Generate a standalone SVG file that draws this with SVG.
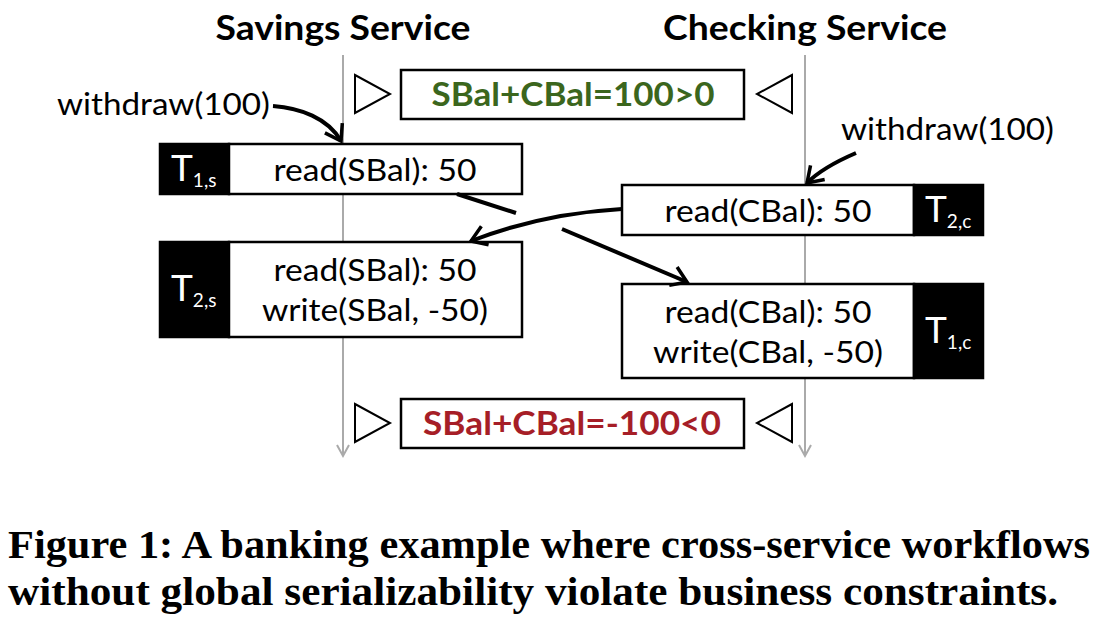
<svg xmlns="http://www.w3.org/2000/svg" width="1102" height="624" viewBox="0 0 1102 624">
<style>
.title{font-family:Lato,"Liberation Sans",sans-serif;font-weight:bold;font-size:35px;fill:#000;text-anchor:middle}
.t{font-family:Lato,"Liberation Sans",sans-serif;font-size:31px;fill:#000;text-anchor:middle}
.lbl{font-family:Lato,"Liberation Sans",sans-serif;font-size:31px;fill:#000}
.tw{font-family:Lato,"Liberation Sans",sans-serif;font-size:37px;fill:#fff}
.sub{font-size:19px}
.box{fill:#fff;stroke:#000;stroke-width:2.5}
.blk{fill:#000;stroke:#000;stroke-width:2.5}
.life{stroke:#aaa;stroke-width:2;fill:none}
.tri{fill:#fff;stroke:#000;stroke-width:2}
.conn{fill:none;stroke:#000;stroke-width:4}
.inv{font-family:Lato,"Liberation Sans",sans-serif;font-weight:bold;font-size:33px;text-anchor:middle}
.cap{font-family:"Liberation Serif",serif;font-weight:bold;font-size:40px;fill:#000}
</style>
<defs>
<marker id="ah" viewBox="-16 -12 18 24" refX="0" refY="0" markerWidth="18" markerHeight="24" orient="auto" markerUnits="userSpaceOnUse" overflow="visible">
<path d="M-15,-10 L0,0 L-15,10" fill="none" stroke="#000" stroke-width="3.5" stroke-linejoin="miter"/>
</marker>
</defs>

<g id="savings-lifeline">
<text class="title" x="343" y="40" textLength="255" lengthAdjust="spacingAndGlyphs">Savings Service</text>
<line class="life" x1="343" y1="55" x2="343" y2="455"/>
<path d="M337,445 L343,456 L349,445" fill="none" stroke="#aaa" stroke-width="2"/>
</g>
<g id="checking-lifeline">
<text class="title" x="805" y="40" textLength="284" lengthAdjust="spacingAndGlyphs">Checking Service</text>
<line class="life" x1="805" y1="55" x2="805" y2="455"/>
<path d="M799,445 L805,456 L811,445" fill="none" stroke="#aaa" stroke-width="2"/>
</g>

<g id="invariant-ok">
<polygon class="tri" points="355,75 390,94 355,113"/>
<rect class="box" x="401" y="70" width="343" height="49"/>
<text class="inv" x="573" y="106" fill="#3b661d" textLength="283" lengthAdjust="spacingAndGlyphs">SBal+CBal=100&gt;0</text>
<polygon class="tri" points="792,75 757,94 792,113"/>
</g>

<g id="withdraw-s">
<text class="lbl" x="57" y="115" textLength="213" lengthAdjust="spacingAndGlyphs">withdraw(100)</text>
</g>
<g id="withdraw-c">
<text class="lbl" x="841" y="140" textLength="213" lengthAdjust="spacingAndGlyphs">withdraw(100)</text>
</g>

<g id="T1s">
<rect class="blk" x="160" y="144" width="69" height="50"/>
<rect class="box" x="229" y="144" width="293" height="50"/>
<text class="tw" x="171" y="181">T<tspan class="sub" dy="6">1,s</tspan></text>
<text class="t" x="375" y="181" textLength="203" lengthAdjust="spacingAndGlyphs">read(SBal): 50</text>
</g>

<g id="T2c">
<rect class="box" x="622" y="185" width="292" height="50"/>
<rect class="blk" x="914" y="185" width="69" height="50"/>
<text class="t" x="768" y="222" textLength="207" lengthAdjust="spacingAndGlyphs">read(CBal): 50</text>
<text class="tw" x="925" y="222">T<tspan class="sub" dy="6">2,c</tspan></text>
</g>

<g id="T2s">
<rect class="blk" x="160" y="242" width="69" height="95"/>
<rect class="box" x="229" y="242" width="293" height="95"/>
<text class="tw" x="171" y="301">T<tspan class="sub" dy="6">2,s</tspan></text>
<text class="t" x="375" y="281" textLength="203" lengthAdjust="spacingAndGlyphs">read(SBal): 50</text>
<text class="t" x="375" y="321" textLength="226" lengthAdjust="spacingAndGlyphs">write(SBal, -50)</text>
</g>

<g id="T1c">
<rect class="box" x="622" y="284" width="292" height="94"/>
<rect class="blk" x="914" y="284" width="69" height="94"/>
<text class="t" x="768" y="323" textLength="207" lengthAdjust="spacingAndGlyphs">read(CBal): 50</text>
<text class="t" x="768" y="363" textLength="230" lengthAdjust="spacingAndGlyphs">write(CBal, -50)</text>
<text class="tw" x="925" y="343">T<tspan class="sub" dy="6">1,c</tspan></text>
</g>

<g id="invariant-bad">
<polygon class="tri" points="355,404 390,423 355,442"/>
<rect class="box" x="401" y="399" width="343" height="49"/>
<text class="inv" x="572" y="435" fill="#a61e27" textLength="298" lengthAdjust="spacingAndGlyphs">SBal+CBal=-100&lt;0</text>
<polygon class="tri" points="792,404 757,423 792,442"/>
</g>

<g id="connectors">
<path class="conn" d="M273,106 C300,108 328,118 341,141" marker-end="url(#ah)"/>
<path class="conn" d="M856,153 C835,162 818,172 807,183" marker-end="url(#ah)"/>
<path class="conn" d="M457,194 L516,213"/>
<path class="conn" d="M562,229 L687,282" marker-end="url(#ah)"/>
<path class="conn" d="M622,209 C570,212 520,222 471,241" marker-end="url(#ah)"/>
</g>

<g id="caption">
<text class="cap" x="8" y="558" textLength="1082" lengthAdjust="spacingAndGlyphs">Figure 1: A banking example where cross-service workflows</text>
<text class="cap" x="8" y="605" textLength="1050" lengthAdjust="spacingAndGlyphs">without global serializability violate business constraints.</text>
</g>
</svg>
